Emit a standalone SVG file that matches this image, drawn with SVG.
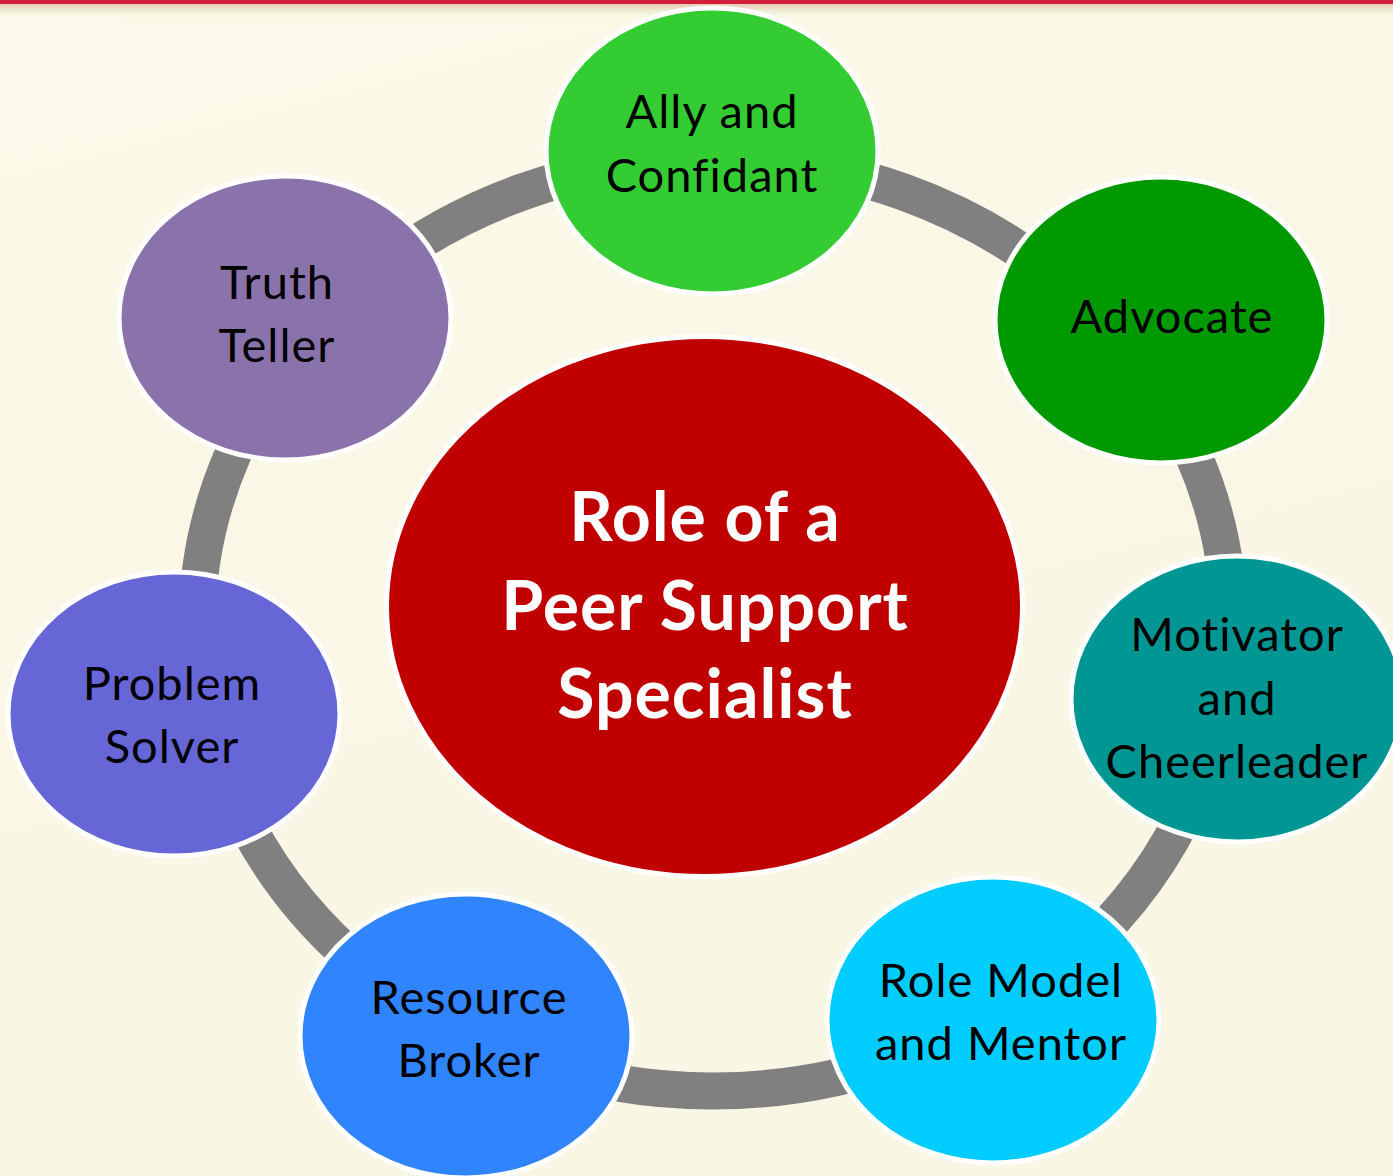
<svg xmlns="http://www.w3.org/2000/svg" width="1393" height="1176" viewBox="0 0 1393 1176">
<defs>
<linearGradient id="bg" x1="0" y1="0" x2="0.3" y2="1">
<stop offset="0" stop-color="#fdf9ea"/>
<stop offset="0.5" stop-color="#faf7e6"/>
<stop offset="1" stop-color="#f9f6e4"/>
</linearGradient>
<linearGradient id="top" x1="0" y1="0" x2="0" y2="1">
<stop offset="0" stop-color="#e8c8b0"/>
<stop offset="0.5" stop-color="#eef0d8"/>
<stop offset="1" stop-color="#fdf8e6" stop-opacity="0"/>
</linearGradient>
<style>
.node{stroke:#ffffff;stroke-width:5}
.lbl{font-family:Lato,"Open Sans",sans-serif;font-size:47px;fill:#000000;text-anchor:middle;letter-spacing:1px;font-variant-ligatures:none}
.ctr{font-family:Lato,"Open Sans",sans-serif;font-size:68px;font-weight:bold;fill:#ffffff;text-anchor:middle;letter-spacing:1px;font-variant-ligatures:none}
.ring{fill:none;stroke:#808080;stroke-width:37}
</style>
</defs>
<rect x="0" y="0" width="1393" height="1176" fill="url(#bg)"/>
<rect x="0" y="3" width="1393" height="17" fill="url(#top)"/>
<rect x="0" y="0" width="1393" height="4" fill="#d21f3c"/>

<g id="connectors">
<ellipse class="ring" cx="713" cy="625" rx="516" ry="466"/>
</g>

<g id="center">
<ellipse cx="704.5" cy="606.5" rx="318" ry="270" fill="#c00000" class="node"/>
<text class="ctr" x="705" y="541">Role of a</text>
<text class="ctr" x="705" y="630">Peer Support</text>
<text class="ctr" x="705" y="718">Specialist</text>
</g>

<g id="ally">
<ellipse class="node" cx="712" cy="151" rx="166" ry="143" fill="#33cc33"/>
<text class="lbl" x="712" y="128">Ally and</text>
<text class="lbl" x="712" y="192">Confidant</text>
</g>

<g id="advocate">
<ellipse class="node" cx="1161" cy="320" rx="166" ry="143" fill="#009900"/>
<text class="lbl" x="1172" y="333">Advocate</text>
</g>

<g id="motivator">
<ellipse class="node" cx="1237" cy="699" rx="166" ry="143" fill="#009694"/>
<text class="lbl" x="1237" y="651">Motivator</text>
<text class="lbl" x="1237" y="715">and</text>
<text class="lbl" x="1237" y="778">Cheerleader</text>
</g>

<g id="rolemodel">
<ellipse class="node" cx="993" cy="1020" rx="166" ry="143" fill="#00ccff"/>
<text class="lbl" x="1001" y="997">Role Model</text>
<text class="lbl" x="1001" y="1060">and Mentor</text>
</g>

<g id="resource">
<ellipse class="node" cx="466" cy="1036" rx="166" ry="142" fill="#3085ff"/>
<text class="lbl" x="469" y="1014">Resource</text>
<text class="lbl" x="469" y="1077">Broker</text>
</g>

<g id="problem">
<ellipse class="node" cx="174" cy="714" rx="166" ry="142" fill="#6666d6"/>
<text class="lbl" x="172" y="700">Problem</text>
<text class="lbl" x="172" y="763">Solver</text>
</g>

<g id="truth">
<ellipse class="node" cx="285" cy="318" rx="166" ry="142" fill="#8a73aa"/>
<text class="lbl" x="277" y="299">Truth</text>
<text class="lbl" x="277" y="362">Teller</text>
</g>
</svg>
